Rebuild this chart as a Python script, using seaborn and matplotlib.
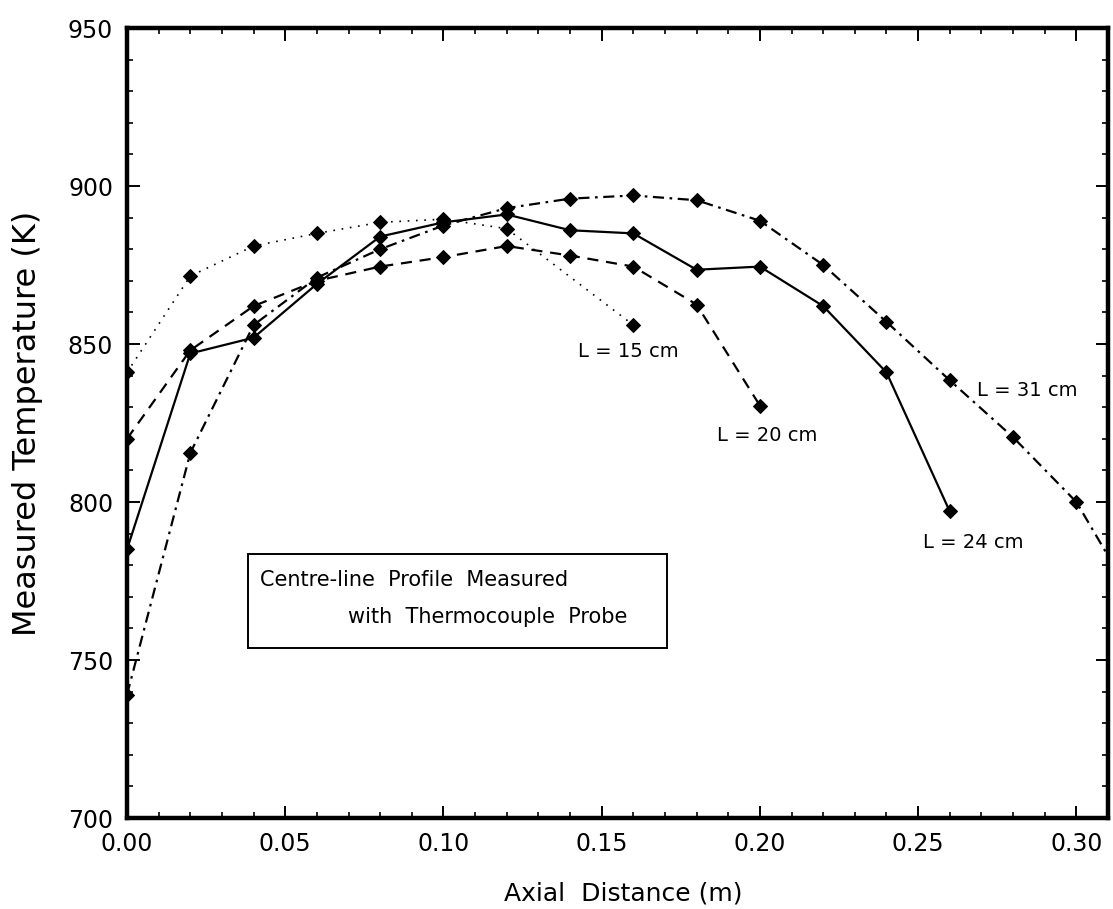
import matplotlib
matplotlib.use("Agg")
import matplotlib.pyplot as plt
from matplotlib.patches import Rectangle
from matplotlib.ticker import MultipleLocator
import pandas as pd
import seaborn as sns

# Centre-line temperature profiles for four reactor lengths
x_15 = [0.00, 0.02, 0.04, 0.06, 0.08, 0.10, 0.12, 0.16]
t_15 = [841, 871.5, 881, 885, 888.5, 889.5, 886.5, 856]

x_20 = [0.00, 0.02, 0.04, 0.06, 0.08, 0.10, 0.12, 0.14, 0.16, 0.18, 0.20]
t_20 = [820, 848, 862, 870, 874.5, 877.5, 881, 878, 874.5, 862.5, 830.5]

x_24 = [0.00, 0.02, 0.04, 0.06, 0.08, 0.10, 0.12, 0.14, 0.16, 0.18, 0.20,
        0.22, 0.24, 0.26]
t_24 = [785, 847, 852, 869, 884, 888.5, 891, 886, 885, 873.5, 874.5,
        862, 841, 797]

x_31 = [0.00, 0.02, 0.04, 0.06, 0.08, 0.10, 0.12, 0.14, 0.16, 0.18, 0.20,
        0.22, 0.24, 0.26, 0.28, 0.30, 0.32]
t_31 = [739, 815.5, 856, 871, 880, 887.5, 893, 896, 897, 895.5, 889,
        875, 857, 838.5, 820.5, 800, 766]

series_names = ["L = 15 cm", "L = 20 cm", "L = 24 cm", "L = 31 cm"]
x_ticks = [0.00, 0.05, 0.10, 0.15, 0.20, 0.25, 0.30]
y_ticks = [700, 750, 800, 850, 900, 950]

frames = []
for name, xs, ts in zip(series_names, [x_15, x_20, x_24, x_31],
                        [t_15, t_20, t_24, t_31]):
    frames.append(pd.DataFrame({"x": xs, "T": ts, "L": name}))
df = pd.concat(frames, ignore_index=True)

sns.set_style("ticks")
plt.rcParams["font.family"] = ["DejaVu Sans"]
plt.rcParams["text.color"] = "black"
plt.rcParams["axes.labelcolor"] = "black"
plt.rcParams["xtick.color"] = "black"
plt.rcParams["ytick.color"] = "black"

fig = plt.figure(figsize=(11.13, 9.09), dpi=100)
ax = fig.add_axes([127 / 1113, 91 / 909, 981 / 1113, 790 / 909])

dash_styles = {
    "L = 15 cm": (1, 4),
    "L = 20 cm": (5, 3.5),
    "L = 24 cm": "",
    "L = 31 cm": (5, 2.5, 1.2, 2.5),
}
marker_styles = {name: "D" for name in series_names}

sns.lineplot(data=df, x="x", y="T", style="L", style_order=series_names,
             dashes=dash_styles, markers=marker_styles, color="black",
             markersize=7.5, markeredgecolor="black", linewidth=1.6,
             legend=False, sort=True, ax=ax)

# finer dotted trace for the shortest reactor
ax.get_lines()[0].set_linewidth(1.2)

ax.set_xlim(0.0, 0.31)
ax.set_ylim(700, 950)
ax.set_xticks(x_ticks)
ax.set_xticklabels([f"{v:.2f}" for v in x_ticks])
ax.set_yticks(y_ticks)
ax.set_yticklabels([str(v) for v in y_ticks])
ax.xaxis.set_minor_locator(MultipleLocator(0.01))
ax.yaxis.set_minor_locator(MultipleLocator(10))

ax.tick_params(which="both", direction="in", top=True, right=True,
               color="black")
ax.tick_params(which="major", length=9, width=1.4, labelsize=17, pad=10)
ax.tick_params(which="minor", length=4, width=1.2)
for spine in ax.spines.values():
    spine.set_linewidth(3.2)
    spine.set_color("black")

ax.set_xlabel("Axial  Distance (m)", fontsize=18)
ax.set_ylabel("Measured Temperature (K)", fontsize=23)
ax.xaxis.set_label_coords(0.506, -0.081)
ax.yaxis.set_label_coords(-0.086, 0.5)

# curve labels
label_pos = {
    "L = 15 cm": (0.1585, 847.5),
    "L = 20 cm": (0.2022, 821.2),
    "L = 24 cm": (0.2674, 787.3),
    "L = 31 cm": (0.2845, 835.4),
}
for name in series_names:
    lx, ly = label_pos[name]
    ax.text(lx, ly, name, ha="center", va="center", fontsize=14)

# annotation box
ax.add_patch(Rectangle((0.123, 0.215), 0.427, 0.119,
                       transform=ax.transAxes, fill=False,
                       edgecolor="black", linewidth=1.4))
ax.text(0.136, 0.301, "Centre-line  Profile  Measured",
        transform=ax.transAxes, ha="left", va="center", fontsize=15)
ax.text(0.225, 0.254, "with  Thermocouple  Probe",
        transform=ax.transAxes, ha="left", va="center", fontsize=15)

fig.savefig("out.png", dpi=100, facecolor="white")
